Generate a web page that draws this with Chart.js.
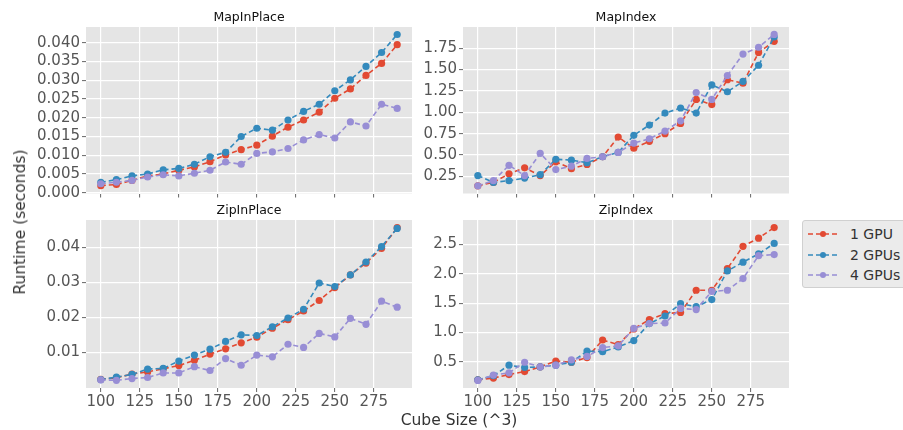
<!DOCTYPE html>
<html>
<head>
<meta charset="utf-8">
<script src="https://cdn.jsdelivr.net/npm/chart.js@4.4.0/dist/chart.umd.min.js"></script>
<style>
  body { margin: 0; width: 903px; height: 430px; overflow: hidden; background: #fff; position: relative; font-family: 'DejaVu Sans', sans-serif; }
  .panel { position: absolute; }
  .label { position: absolute; color: #333; font-size: 15.5px; white-space: nowrap; }
  #ylabel { left: 20px; top: 222px; transform: translate(-50%, -50%) rotate(-90deg); }
  #xlabel { left: 459px; top: 420px; transform: translate(-50%, -50%); }
  #legend { position: absolute; left: 802px; top: 220px; width: 120px; height: 68px; background: #EBEBEB; border: 1px solid #D0D0D0; border-radius: 3px; box-sizing: border-box; }
  .item { position: absolute; left: 5px; height: 20px; display: flex; align-items: center; font-size: 14px; color: #333; }
  .item svg { margin-right: 12px; }
</style>
</head>
<body>
<div class="panel" style="left:0;top:0;width:420px;height:200px"><canvas id="mapInPlace"></canvas></div>
<div class="panel" style="left:420px;top:0;width:380px;height:200px"><canvas id="mapIndex"></canvas></div>
<div class="panel" style="left:0;top:200px;width:420px;height:230px"><canvas id="zipInPlace"></canvas></div>
<div class="panel" style="left:420px;top:200px;width:380px;height:230px"><canvas id="zipIndex"></canvas></div>
<div class="label" id="ylabel">Runtime (seconds)</div>
<div class="label" id="xlabel">Cube Size (^3)</div>
<div id="legend"></div>
<script>
const cubeSizes = [100, 110, 120, 130, 140, 150, 160, 170, 180, 190, 200, 210, 220, 230, 240, 250, 260, 270, 280, 290];
const xTicks = [100, 125, 150, 175, 200, 225, 250, 275];
const seriesNames = ['1 GPU', '2 GPUs', '4 GPUs'];
const seriesColors = ['#E24A33', '#348ABD', '#988ED5'];

// MapInPlace
const mapInPlace1 = [0.0019, 0.0022, 0.0033, 0.0045, 0.0050, 0.0060, 0.0069, 0.0083, 0.0101, 0.0115, 0.0127, 0.0151, 0.0175, 0.0194, 0.0215, 0.0252, 0.0277, 0.0313, 0.0345, 0.0395];
const mapInPlace2 = [0.0028, 0.0035, 0.0045, 0.0050, 0.0061, 0.0065, 0.0076, 0.0096, 0.0108, 0.0150, 0.0172, 0.0167, 0.0194, 0.0217, 0.0236, 0.0272, 0.0301, 0.0337, 0.0374, 0.0422];
const mapInPlace4 = [0.0024, 0.0028, 0.0033, 0.0042, 0.0048, 0.0045, 0.0052, 0.0060, 0.0082, 0.0076, 0.0105, 0.0109, 0.0118, 0.0141, 0.0155, 0.0146, 0.0189, 0.0178, 0.0236, 0.0225];
// MapIndex
const mapIndex1 = [0.14, 0.18, 0.28, 0.35, 0.26, 0.42, 0.34, 0.39, 0.48, 0.71, 0.58, 0.66, 0.75, 0.87, 1.15, 1.09, 1.38, 1.34, 1.70, 1.83];
const mapIndex2 = [0.26, 0.18, 0.20, 0.23, 0.27, 0.45, 0.44, 0.41, 0.48, 0.53, 0.73, 0.85, 0.99, 1.05, 0.99, 1.32, 1.24, 1.36, 1.55, 1.88];
const mapIndex4 = [0.14, 0.20, 0.38, 0.26, 0.52, 0.33, 0.37, 0.46, 0.48, 0.53, 0.64, 0.69, 0.78, 0.90, 1.23, 1.15, 1.43, 1.68, 1.76, 1.91];
// ZipInPlace
const zipInPlace1 = [0.0023, 0.0027, 0.0038, 0.0044, 0.0053, 0.0062, 0.0077, 0.0095, 0.0110, 0.0127, 0.0143, 0.0169, 0.0193, 0.0218, 0.0248, 0.0285, 0.0321, 0.0355, 0.0397, 0.0456];
const zipInPlace2 = [0.0022, 0.0029, 0.0037, 0.0052, 0.0054, 0.0075, 0.0092, 0.0109, 0.0131, 0.0150, 0.0148, 0.0173, 0.0198, 0.0223, 0.0298, 0.0288, 0.0321, 0.0358, 0.0402, 0.0454];
const zipInPlace4 = [0.0021, 0.0020, 0.0025, 0.0028, 0.0041, 0.0041, 0.0059, 0.0048, 0.0082, 0.0063, 0.0092, 0.0087, 0.0123, 0.0114, 0.0154, 0.0144, 0.0197, 0.0180, 0.0246, 0.0229];
// ZipIndex
const zipIndex1 = [0.19, 0.22, 0.28, 0.33, 0.41, 0.51, 0.49, 0.57, 0.87, 0.79, 1.06, 1.22, 1.32, 1.34, 1.72, 1.72, 2.09, 2.47, 2.61, 2.79];
const zipIndex2 = [0.19, 0.26, 0.44, 0.40, 0.41, 0.44, 0.49, 0.68, 0.67, 0.75, 0.86, 1.15, 1.28, 1.49, 1.44, 1.56, 2.05, 2.20, 2.34, 2.52];
const zipIndex4 = [0.18, 0.27, 0.31, 0.49, 0.41, 0.44, 0.53, 0.59, 0.74, 0.77, 1.07, 1.15, 1.16, 1.41, 1.39, 1.70, 1.72, 1.92, 2.31, 2.33];

const mapInPlaceTicks = [0.000, 0.005, 0.010, 0.015, 0.020, 0.025, 0.030, 0.035, 0.040];
const mapIndexTicks = [0.25, 0.50, 0.75, 1.00, 1.25, 1.50, 1.75];
const zipInPlaceTicks = [0.01, 0.02, 0.03, 0.04];
const zipIndexTicks = [0.5, 1.0, 1.5, 2.0, 2.5];

const FONT = 'DejaVu Sans';

// grey plot background like ggplot style
const panelBg = {
    id: 'panelBg',
    beforeDraw(chart) {
        const a = chart.chartArea;
        chart.ctx.save();
        chart.ctx.fillStyle = '#E5E5E5';
        chart.ctx.fillRect(a.left, a.top, a.right - a.left, a.bottom - a.top);
        chart.ctx.restore();
    }
};

// title centred over the plot area
const panelTitle = {
    id: 'panelTitle',
    afterDraw(chart, args, opts) {
        const a = chart.chartArea;
        const ctx = chart.ctx;
        ctx.save();
        ctx.font = '12.5px "' + FONT + '"';
        ctx.fillStyle = '#111';
        ctx.textAlign = 'center';
        ctx.textBaseline = 'middle';
        ctx.fillText(opts.text, (a.left + a.right) / 2, a.top - 9.5);
        ctx.restore();
    }
};

function makePanel(p) {
    new Chart(document.getElementById(p.id), {
        type: 'line',
        data: {
            datasets: p.series.map((vals, k) => ({
                label: seriesNames[k],
                data: vals.map((v, i) => ({x: cubeSizes[i], y: v})),
                borderColor: seriesColors[k],
                backgroundColor: seriesColors[k],
                borderWidth: 1.6,
                borderDash: [5, 3],
                pointRadius: 3.6,
                pointBorderWidth: 0,
                tension: 0,
                order: 2 - k
            }))
        },
        options: {
            responsive: true,
            maintainAspectRatio: false,
            animation: false,
            layout: {padding: p.pad},
            plugins: {
                legend: {display: false},
                tooltip: {enabled: false},
                panelTitle: {text: p.title}
            },
            scales: {
                x: {
                    type: 'linear',
                    min: 90.5,
                    max: 299.5,
                    afterBuildTicks: s => { s.ticks = xTicks.map(v => ({value: v})); },
                    afterFit: s => { s.height = p.xH; s.paddingLeft = 0; s.paddingRight = 0; },
                    border: {display: false},
                    grid: {color: '#fff', lineWidth: 1.2, tickColor: '#666', tickLength: 4, tickWidth: 1},
                    ticks: {display: p.xLabels, color: '#555', font: {family: FONT, size: 15}, padding: 1, maxRotation: 0, autoSkip: false}
                },
                y: {
                    min: p.yMin,
                    max: p.yMax,
                    afterBuildTicks: s => { s.ticks = p.yTicks.map(v => ({value: v})); },
                    afterFit: s => { s.width = p.yW; s.paddingTop = 0; s.paddingBottom = 0; },
                    border: {display: false},
                    grid: {color: '#fff', lineWidth: 1.2, tickColor: '#666', tickLength: 4, tickWidth: 1},
                    ticks: {color: '#555', font: {family: FONT, size: 15}, padding: 2, autoSkip: false,
                            callback: v => Number(v).toFixed(p.dec)}
                }
            }
        },
        plugins: [panelBg, panelTitle]
    });
}

makePanel({id: 'mapInPlace', title: 'MapInPlace', series: [mapInPlace1, mapInPlace2, mapInPlace4],
    yTicks: mapInPlaceTicks, dec: 3, yMin: -0.0002, yMax: 0.0442, yW: 86, xH: 6.5, xLabels: false,
    pad: {left: 0, top: 27, right: 8, bottom: 0}});
makePanel({id: 'mapIndex', title: 'MapIndex', series: [mapIndex1, mapIndex2, mapIndex4],
    yTicks: mapIndexTicks, dec: 2, yMin: 0.05, yMax: 1.997, yW: 43, xH: 6.5, xLabels: false,
    pad: {left: 0, top: 27, right: 11, bottom: 0}});
makePanel({id: 'zipInPlace', title: 'ZipInPlace', series: [zipInPlace1, zipInPlace2, zipInPlace4],
    yTicks: zipInPlaceTicks, dec: 2, yMin: -0.0002, yMax: 0.0478, yW: 86, xH: 42, xLabels: true,
    pad: {left: 0, top: 20, right: 8, bottom: 0}});
makePanel({id: 'zipIndex', title: 'ZipIndex', series: [zipIndex1, zipIndex2, zipIndex4],
    yTicks: zipIndexTicks, dec: 1, yMin: 0.05, yMax: 2.92, yW: 43, xH: 42, xLabels: true,
    pad: {left: 0, top: 20, right: 11, bottom: 0}});

// legend
const legend = document.getElementById('legend');
seriesNames.forEach((name, k) => {
    const c = seriesColors[k];
    const row = document.createElement('div');
    row.className = 'item';
    row.style.top = (3 + k * 20.5) + 'px';
    row.innerHTML = '<svg width="30" height="10"><line x1="0" y1="5" x2="30" y2="5" stroke="' + c +
        '" stroke-width="1.6" stroke-dasharray="5 3"/><circle cx="15" cy="5" r="3" fill="' + c + '"/></svg>' + name;
    legend.appendChild(row);
});
</script>
</body>
</html>
